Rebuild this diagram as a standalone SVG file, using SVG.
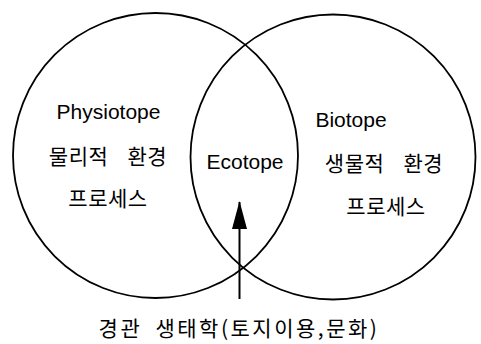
<svg xmlns="http://www.w3.org/2000/svg" width="481" height="344" viewBox="0 0 481 344">
<style>
.c{fill:none;stroke:#000;stroke-width:1.8}
.t{font-family:"Liberation Sans","Noto Sans CJK KR",sans-serif;font-size:21px;fill:#000;text-anchor:middle}
.k{font-family:"Noto Sans CJK KR","Liberation Sans",sans-serif;font-size:21px;fill:#000;text-anchor:middle;word-spacing:14px;letter-spacing:0.5px}
</style>
<defs>
<marker id="ah" viewBox="0 0 28 16" refX="27" refY="8" markerWidth="28" markerHeight="16" markerUnits="userSpaceOnUse" orient="auto">
<path d="M28 8 L0 0.5 L0 15.5 Z" fill="#000"/>
</marker>
</defs>
<g id="physiotope">
<circle class="c" cx="155.5" cy="155.5" r="142.5"/>
<text class="t" x="108.5" y="119">Physiotope</text>
<text class="k" x="108" y="164">물리적 환경</text>
<text class="k" x="108" y="206">프로세스</text>
</g>
<g id="biotope">
<circle class="c" cx="333" cy="157" r="142.5"/>
<text class="t" x="351" y="127">Biotope</text>
<text class="k" x="384" y="171">생물적 환경</text>
<text class="k" x="386" y="214">프로세스</text>
</g>
<g id="ecotope">
<text class="t" x="245" y="169">Ecotope</text>
</g>
<g id="landscape">
<text class="k" x="239" y="336" style="word-spacing:6px;letter-spacing:2.5px">경관 생태학(토지이용,문화)</text>
</g>
<g id="connectors">
<line x1="239.5" y1="299" x2="239.5" y2="202" stroke="#000" stroke-width="2" marker-end="url(#ah)"/>
</g>
</svg>
